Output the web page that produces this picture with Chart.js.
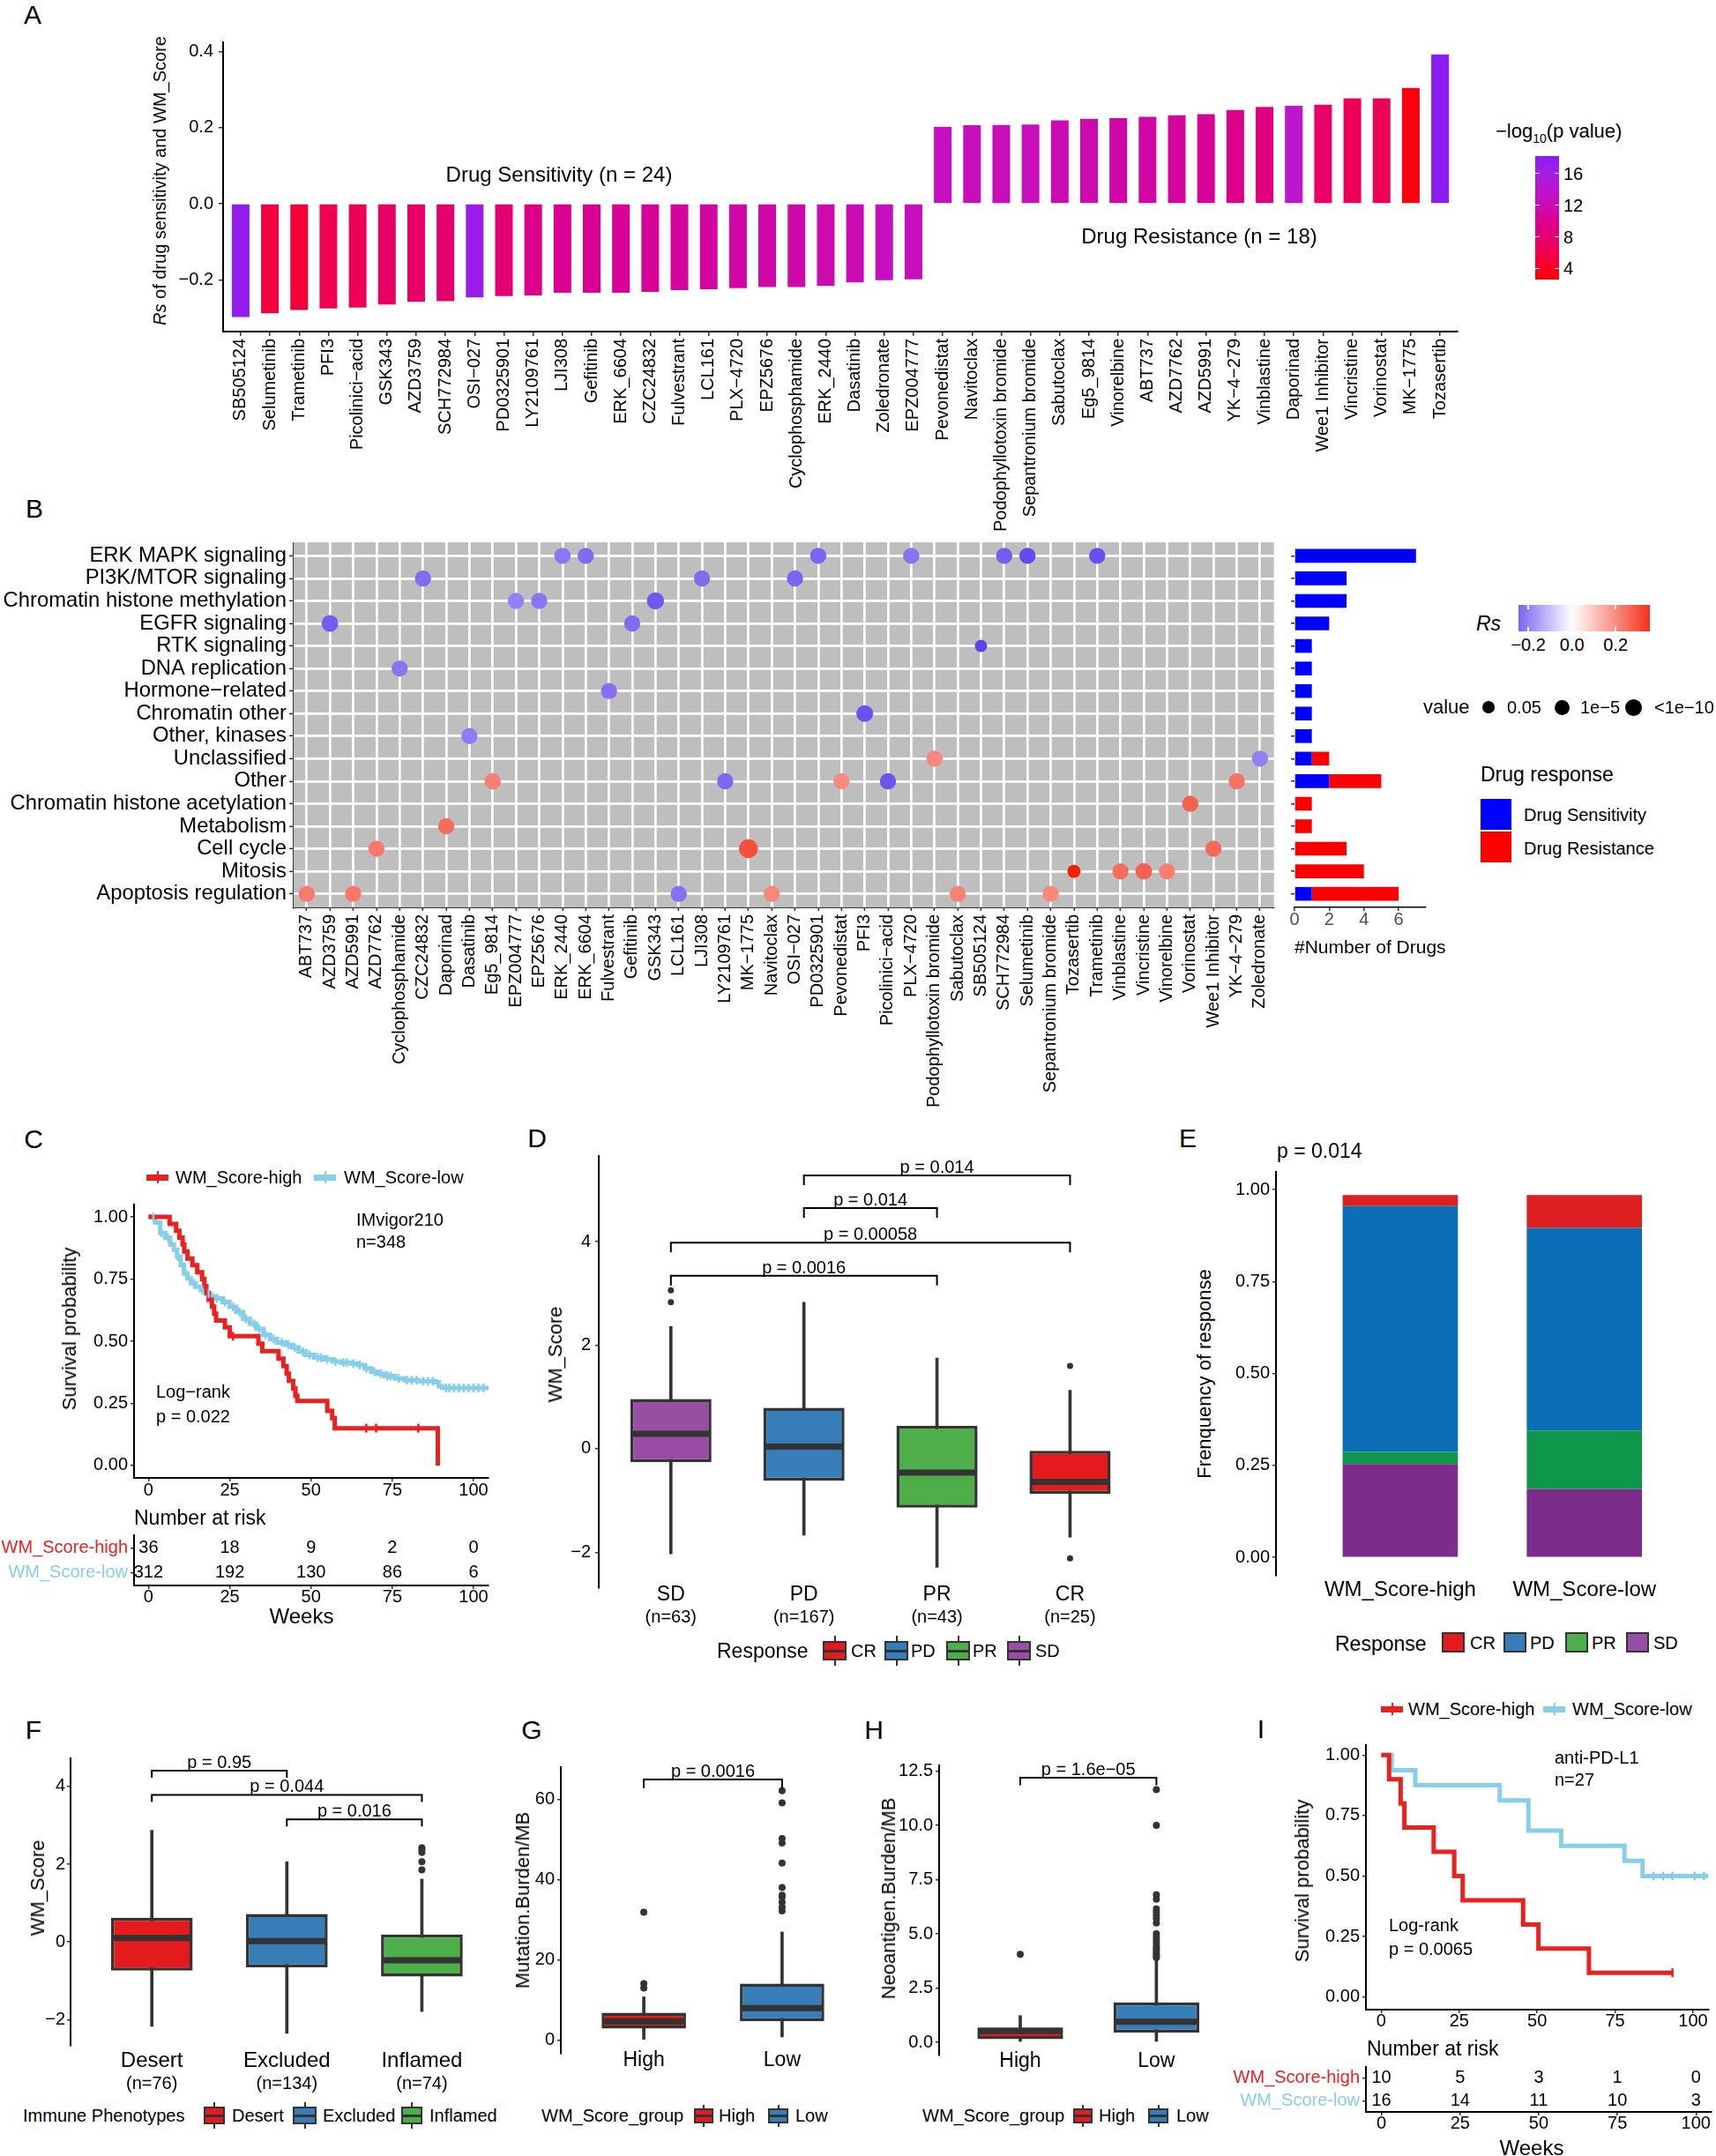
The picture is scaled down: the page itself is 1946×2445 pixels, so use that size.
<!DOCTYPE html>
<html lang="en">
<head>
<meta charset="utf-8">
<title>WM_Score drug sensitivity and immunotherapy response</title>
<script src="https://cdn.jsdelivr.net/npm/chart.js@4.4.1/dist/chart.umd.min.js"></script>
<style>
html, body { margin:0; padding:0; background:#fff; }
body { position:relative; width:1946px; height:2445px; overflow:hidden; font-family:'Liberation Sans', Arial, Helvetica, sans-serif; color:#000; }
.t { position:absolute; white-space:nowrap; line-height:1; }
canvas { position:absolute; }
</style>
</head>
<body>
<script>
// ====================== DATA ======================
// Panel A: Spearman Rs between drug sensitivity and WM_Score
const drugsA = ['SB505124','Selumetinib','Trametinib','PFI3','Picolinici-acid','GSK343','AZD3759','SCH772984','OSI-027','PD0325901','LY2109761','LJI308','Gefitinib','ERK_6604','CZC24832','Fulvestrant','LCL161','PLX-4720','EPZ5676','Cyclophosphamide','ERK_2440','Dasatinib','Zoledronate','EPZ004777','Pevonedistat','Navitoclax','Podophyllotoxin bromide','Sepantronium bromide','Sabutoclax','Eg5_9814','Vinorelbine','ABT737','AZD7762','AZD5991','YK-4-279','Vinblastine','Daporinad','Wee1 Inhibitor','Vincristine','Vorinostat','MK-1775','Tozasertib'];
const rsA = [-0.298,-0.288,-0.279,-0.275,-0.273,-0.265,-0.258,-0.256,-0.246,-0.243,-0.241,-0.234,-0.234,-0.234,-0.232,-0.227,-0.225,-0.222,-0.219,-0.219,-0.216,-0.207,-0.201,-0.199,0.202,0.206,0.207,0.208,0.219,0.223,0.225,0.228,0.232,0.235,0.246,0.254,0.257,0.260,0.277,0.277,0.304,0.392];
const logPA = [17.5,5.3,5.0,6.0,6.3,7.3,7.5,7.8,17.0,8.3,9.5,10.0,10.2,10.2,10.5,10.7,10.9,11.2,11.4,11.6,11.8,12.1,12.8,12.5,12.9,12.5,12.5,12.5,12.1,11.8,11.4,11.2,10.8,10.4,9.5,8.8,14.0,7.5,6.5,6.5,3.3,18.0];
const yTicksA = [-0.2, 0, 0.2, 0.4];
const legendTicksA = [16, 12, 8, 4];

// Panel B: drug targets / pathways
const drugsB = ['ABT737','AZD3759','AZD5991','AZD7762','Cyclophosphamide','CZC24832','Daporinad','Dasatinib','Eg5_9814','EPZ004777','EPZ5676','ERK_2440','ERK_6604','Fulvestrant','Gefitinib','GSK343','LCL161','LJI308','LY2109761','MK-1775','Navitoclax','OSI-027','PD0325901','Pevonedistat','PFI3','Picolinici-acid','PLX-4720','Podophyllotoxin bromide','Sabutoclax','SB505124','SCH772984','Selumetinib','Sepantronium bromide','Tozasertib','Trametinib','Vinblastine','Vincristine','Vinorelbine','Vorinostat','Wee1 Inhibitor','YK-4-279','Zoledronate'];
const pathways = ['ERK MAPK signaling','PI3K/MTOR signaling','Chromatin histone methylation','EGFR signaling','RTK signaling','DNA replication','Hormone-related','Chromatin other','Other, kinases','Unclassified','Other','Chromatin histone acetylation','Metabolism','Cell cycle','Mitosis','Apoptosis regulation'];
const dotDrug = ['ERK_2440','ERK_6604','PD0325901','PLX-4720','SCH772984','Selumetinib','Trametinib',
  'CZC24832','LJI308','OSI-027','EPZ004777','EPZ5676','GSK343','AZD3759','Gefitinib',
  'SB505124','Cyclophosphamide','Fulvestrant','PFI3','Dasatinib','Podophyllotoxin bromide','Zoledronate',
  'Eg5_9814','LY2109761','Pevonedistat','Picolinici-acid','YK-4-279','Vorinostat','Daporinad',
  'AZD7762','MK-1775','Wee1 Inhibitor','Tozasertib','Vinblastine','Vincristine','Vinorelbine',
  'ABT737','AZD5991','LCL161','Navitoclax','Sabutoclax','Sepantronium bromide'];
const dotPath = ['ERK MAPK signaling','ERK MAPK signaling','ERK MAPK signaling','ERK MAPK signaling','ERK MAPK signaling','ERK MAPK signaling','ERK MAPK signaling',
  'PI3K/MTOR signaling','PI3K/MTOR signaling','PI3K/MTOR signaling','Chromatin histone methylation','Chromatin histone methylation','Chromatin histone methylation','EGFR signaling','EGFR signaling',
  'RTK signaling','DNA replication','Hormone-related','Chromatin other','Other, kinases','Unclassified','Unclassified',
  'Other','Other','Other','Other','Other','Chromatin histone acetylation','Metabolism',
  'Cell cycle','Cell cycle','Cell cycle','Mitosis','Mitosis','Mitosis','Mitosis',
  'Apoptosis regulation','Apoptosis regulation','Apoptosis regulation','Apoptosis regulation','Apoptosis regulation','Apoptosis regulation'];
const dotLogP = [12,12,12,12,12,12,12, 12,12,12,12,12,14,13,12, 3,12,12,13,12,12,12, 12,12,12,12,12,12,12, 12,18,12,5,12,13,12, 12,12,12,12,12,12];
const countTicksB = [0, 2, 4, 6];
const rsLegendTicks = [-0.2, 0, 0.2];

// Panel C: IMvigor210 Kaplan-Meier
const kmC_high_t = [0,6.5,8.5,9.5,10.5,11,12,13.5,15,16.5,17.2,17.8,18.5,19.5,20.2,20.8,23.5,25,33.8,35,40,41.5,42.5,43.2,44.5,45.2,45.8,55,56.5,57.3,89];
const kmC_high_s = [1,.972,.944,.917,.889,.861,.833,.806,.778,.750,.722,.694,.667,.639,.611,.583,.556,.52,.49,.46,.43,.40,.37,.34,.31,.28,.26,.22,.19,.15,0];
const kmC_low_t = [0,2,3.6,5.2,6.7,7.8,8.8,9.9,10.9,12,13,14.5,16.1,17.7,19.2,20.8,22.8,24.9,27,29.1,31.2,33.2,35.3,37.4,39.5,42.1,44.1,46.2,48.3,50.9,54,56.6,59.2,62.3,64.4,66.5,68.5,70.6,72.7,75.8,78.9,83.1,88.3,89.3,90.3,104.6];
const kmC_low_s = [1,.977,.936,.916,.889,.868,.841,.807,.773,.753,.733,.719,.706,.692,.681,.672,.658,.638,.617,.590,.570,.550,.526,.509,.495,.486,.475,.459,.445,.434,.427,.418,.414,.410,.404,.391,.377,.369,.360,.350,.343,.339,.335,.319,.312,.312];
const censC_high = [26, 67, 70, 83];
const censC_low = [1.5,4,6,9,11.5,14,16.5,18.5,21,23.5,26,28,30,32.5,34,36,38.5,41,43,45,47.5,49.5,52,53,55,57.5,60,61,63,65,67,69.5,71.5,73.5,74.5,77,79.5,81,82.5,84.5,86,87.5,91.5,92.5,94,95.5,97,98.5,100,101.5,103];
const riskTimes = [0, 25, 50, 75, 100];
const riskC_high = [36, 18, 9, 2, 0];
const riskC_low = [312, 192, 130, 86, 6];
const kmTicksX = [0, 25, 50, 75, 100];
const probTicks = [0, 0.25, 0.5, 0.75, 1];
const kmGroups = ['WM_Score-high', 'WM_Score-low'];

// Panel D: WM_Score by response
const respD = ['SD', 'PD', 'PR', 'CR'];
const nD = [63, 167, 43, 25];
const q1D = [-0.26, -0.62, -1.14, -0.87];
const medD = [0.29, 0.04, -0.46, -0.64];
const q3D = [0.96, 0.79, 0.44, -0.04];
const loD = [-2.03, -1.67, -2.29, -1.71];
const hiD = [2.36, 2.83, 1.75, 1.13];
const outD = [[3.06, 2.83], [], [], [1.60, -2.12]];
const bracketsD = [
  { a: 2, b: 4, y: 5.28, label: 'p = 0.014' },
  { a: 2, b: 3, y: 4.65, label: 'p = 0.014' },
  { a: 1, b: 4, y: 3.98, label: 'p = 0.00058' },
  { a: 1, b: 3, y: 3.34, label: 'p = 0.0016' }];
const yTicksD = [-2, 0, 2, 4];

// Panel E: response frequency
const groupsE = ['WM_Score-high', 'WM_Score-low'];
const E_SD = [0.254, 0.186];
const E_PR = [0.033, 0.159];
const E_PD = [0.668, 0.551];
const E_CR = [0.030, 0.089];
const respLegend = ['CR', 'PD', 'PR', 'SD'];

// Panel F: immune phenotypes
const phenF = ['Desert', 'Excluded', 'Inflamed'];
const nF = [76, 134, 74];
const q1F = [-0.74, -0.65, -0.89];
const medF = [0.10, 0.02, -0.47];
const q3F = [0.62, 0.72, 0.19];
const loF = [-2.17, -2.35, -1.79];
const hiF = [2.87, 2.06, 1.62];
const outF = [[], [], [2.42, 2.36, 2.30, 2.06, 1.85]];
const bracketsF = [
  { a: 1, b: 2, y: 4.40, label: 'p = 0.95' },
  { a: 1, b: 3, y: 3.78, label: 'p = 0.044' },
  { a: 2, b: 3, y: 3.15, label: 'p = 0.016' }];

// Panels G/H: mutation and neoantigen burden
const grpGH = ['High', 'Low'];
const q1G = [2.81, 4.67], medG = [4.67, 7.93], q3G = [6.81, 14.07], loG = [0, 0.74], hiG = [10.74, 26.9];
const outG = [[31.85, 14.07, 12.96], [32.2, 33.1, 34.3, 35.6, 36.1, 38.0, 44.1, 49.1, 50.2, 59.1, 62.1]];
const bracketsG = [{ a: 1, b: 2, y: 64.95, label: 'p = 0.0016' }];
const yTicksG = [0, 20, 40, 60];
const q1H = [0.14, 0.45], medH = [0.52, 0.95], q3H = [0.68, 1.84], loH = [0.04, 0.04], hiH = [1.23, 3.79];
const outH = [[4.06], [3.9, 4.0, 4.1, 4.2, 4.3, 4.4, 4.55, 4.7, 4.85, 5.0, 5.5, 5.7, 5.85, 6.0, 6.15, 6.6, 6.8, 10.0, 11.65]];
const bracketsH = [{ a: 1, b: 2, y: 12.2, label: 'p = 1.6e\u221205' }];
const yTicksH = [0, 2.5, 5, 7.5, 10, 12.5];

// Panel I: anti-PD-L1 Kaplan-Meier
const kmI_high_t = [0, 2.5, 6.2, 7.4, 16.8, 23.4, 26.1, 45.5, 50.4, 66.6, 93.4];
const kmI_high_s = [1, .9, .8, .7, .6, .5, .4, .3, .2, .1, .1];
const kmI_low_t = [0, 3.3, 10.9, 38, 47.2, 57.7, 78, 83.8, 104.9];
const kmI_low_s = [1, .9375, .875, .8125, .6875, .625, .5625, .5, .5];
const censI_high = [93.4];
const censI_low = [87.3, 90.4, 93.4, 100.5, 103.5];
const riskI_high = [10, 5, 3, 1, 0];
const riskI_low = [16, 14, 11, 10, 3];

// ====================== STYLE / HELPERS ======================
const FONT = "'Liberation Sans', Arial, Helvetica, sans-serif";
Chart.defaults.font.family = FONT;
Chart.defaults.font.size = 20;
Chart.defaults.color = '#000';
Chart.defaults.plugins.legend.display = false;
Chart.defaults.plugins.tooltip.enabled = false;
Chart.defaults.animation = false;
Chart.defaults.events = [];

const RED_KM = '#E8221E', BLUE_KM = '#87CEEB';
const SET1 = { CR: '#E41A1C', PD: '#377EB8', PR: '#4DAF4A', SD: '#984EA3' };
const EBAR = { CR: '#DC1F1F', PD: '#0B6DB6', PR: '#0E964A', SD: '#7B2D8C' };
const idx = n => Array.from({ length: n }, (_, i) => i);
const disp = s => s.replace(/-/g, '\u2212');
const fmt = d => v => (v < 0 ? '\u2212' : '') + Math.abs(v).toFixed(d);

function hex2rgb(h) { return [1, 3, 5].map(i => parseInt(h.substr(i, 2), 16)); }
function ramp(stops) {
  const s = stops.map(([v, c]) => [v, hex2rgb(c)]);
  const out = a => 'rgb(' + a.map(x => Math.round(x)).join(',') + ')';
  return v => {
    if (v <= s[0][0]) return out(s[0][1]);
    for (let i = 1; i < s.length; i++) {
      if (v <= s[i][0]) {
        const t = (v - s[i - 1][0]) / (s[i][0] - s[i - 1][0]);
        return out(s[i - 1][1].map((a, k) => a + (s[i][1][k] - a) * t));
      }
    }
    return out(s[s.length - 1][1]);
  };
}
const colA = ramp([[2.6, '#FF0000'], [6, '#F00050'], [10, '#DA0090'], [13, '#C410C4'], [16, '#A81EE0'], [18.2, '#8A1CF5']]);
const colRs = ramp([[-0.3, '#6040F0'], [0, '#FFFFFF'], [0.4, '#F41800']]);
function gradCss(dir, fn, v0, v1) {
  const st = [];
  for (let i = 0; i <= 30; i++) { const v = v0 + (v1 - v0) * i / 30; st.push(fn(v) + ' ' + (i / 30 * 100).toFixed(2) + '%'); }
  return 'linear-gradient(' + dir + ',' + st.join(',') + ')';
}

function txt(x, y, html, size, align, extra) {
  const d = document.createElement('div');
  d.className = 't';
  const tx = align === 'center' ? '-50%' : align === 'right' ? '-100%' : '0';
  d.style.cssText = `left:${x}px;top:${y}px;font-size:${size}px;transform:translate(${tx},-50%);${extra || ''}`;
  d.innerHTML = html;
  document.body.appendChild(d);
  return d;
}
function vtxt(x, y, html, size) {
  const d = txt(x, y, html, size, 'center');
  d.style.transform = 'translate(-50%,-50%) rotate(-90deg)';
  return d;
}
function rect(x, y, w, h, bg, extra) {
  const d = document.createElement('div');
  d.style.cssText = `position:absolute;left:${x}px;top:${y}px;width:${w}px;height:${h}px;background:${bg};box-sizing:border-box;${extra || ''}`;
  document.body.appendChild(d);
  return d;
}
function boxKey(x, yc, w, h, stub, color) {
  rect(x + w / 2 - 1, yc - h / 2 - stub, 2, h + 2 * stub, '#333');
  rect(x, yc - h / 2, w, h, color, 'border:2.5px solid #333;');
  rect(x + 2, yc - 1.5, w - 4, 3, '#333');
}
function kmKey(x, yc, color) {
  rect(x, yc - 3.5, 25, 7, color);
  rect(x + 11.5, yc - 7, 2, 14, color);
}

function makeChart(area, pad, cfg) {
  const W = Math.round(area.r - area.l + pad.l + pad.r);
  const H = Math.round(area.b - area.t + pad.t + pad.b);
  const c = document.createElement('canvas');
  c.width = W; c.height = H;
  c.style.left = (area.l - pad.l) + 'px';
  c.style.top = (area.t - pad.t) + 'px';
  c.style.width = W + 'px'; c.style.height = H + 'px';
  document.body.appendChild(c);
  const o = cfg.options || (cfg.options = {});
  o.responsive = false; o.maintainAspectRatio = false; o.animation = false; o.devicePixelRatio = 1;
  o.layout = { padding: { left: 0, top: pad.t, right: pad.r, bottom: 0 } };
  o.scales.x.afterFit = s => { s.height = pad.b; };
  o.scales.y.afterFit = s => { s.width = pad.l; };
  return new Chart(c.getContext('2d'), cfg);
}
function linAxis(o) {
  const tick = o.tick === undefined ? 5 : o.tick;
  return {
    type: 'linear', min: o.min, max: o.max, reverse: !!o.reverse, offset: false, stacked: !!o.stacked,
    afterBuildTicks: s => { s.ticks = o.ticks.map(v => ({ value: v })); },
    ticks: {
      display: o.labels !== false, autoSkip: false, maxRotation: o.rot || 0, minRotation: o.rot || 0,
      padding: o.pad === undefined ? 3 : o.pad, font: { size: o.font || 20 }, color: o.color || '#000',
      callback: o.cb || (v => String(v))
    },
    grid: o.grid || { display: tick > 0, drawOnChartArea: false, drawTicks: true, tickLength: tick, color: '#333', lineWidth: 1.5, offset: false },
    border: { display: o.line !== false, color: o.lineColor || '#000', width: o.bw || 2 }
  };
}
const bgPlugin = color => ({ id: 'bg', beforeDraw(ch) {
  const a = ch.chartArea, ctx = ch.ctx;
  ctx.save(); ctx.fillStyle = color; ctx.fillRect(a.left, a.top, a.right - a.left, a.bottom - a.top); ctx.restore();
} });
const bracketPlugin = (list, tickPx) => ({ id: 'brackets', afterDatasetsDraw(ch) {
  const { ctx, scales: { x, y } } = ch;
  ctx.save(); ctx.strokeStyle = '#000'; ctx.lineWidth = 2; ctx.fillStyle = '#000';
  ctx.font = `20px ${FONT}`; ctx.textAlign = 'center'; ctx.textBaseline = 'alphabetic';
  list.forEach(b => {
    const x1 = x.getPixelForValue(b.a), x2 = x.getPixelForValue(b.b), yy = y.getPixelForValue(b.y);
    ctx.beginPath(); ctx.moveTo(x1, yy + tickPx); ctx.lineTo(x1, yy); ctx.lineTo(x2, yy); ctx.lineTo(x2, yy + tickPx); ctx.stroke();
    ctx.fillText(b.label, (x1 + x2) / 2, yy - 3);
  });
  ctx.restore();
} });
const catLabelPlugin = (names, subs, o) => ({ id: 'catlabels', afterDraw(ch) {
  const { ctx, chartArea: a, scales: { x } } = ch;
  ctx.save(); ctx.fillStyle = '#000'; ctx.textAlign = 'center'; ctx.textBaseline = 'middle';
  names.forEach((n, i) => {
    const px = x.getPixelForValue(i + 1);
    ctx.font = `${o.f1}px ${FONT}`; ctx.fillText(n, px, a.bottom + o.d1);
    if (subs) { ctx.font = `${o.f2}px ${FONT}`; ctx.fillText(subs[i], px, a.bottom + o.d2); }
  });
  ctx.restore();
} });
const riskPlugin = (rows, times) => ({ id: 'risk', afterDraw(ch) {
  const { ctx, scales: { x, y } } = ch;
  ctx.save(); ctx.font = `20px ${FONT}`; ctx.fillStyle = '#000'; ctx.textAlign = 'center'; ctx.textBaseline = 'middle';
  rows.forEach((row, r) => row.forEach((n, j) => ctx.fillText(String(n), x.getPixelForValue(times[j]), y.getPixelForValue(r))));
  ctx.restore();
} });

function kmAt(ts, ss, t) { let s = 1; for (let i = 0; i < ts.length; i++) if (ts[i] <= t) s = ss[i]; return s; }
function kmDs(ts, ss, color) {
  return { data: ts.map((x, i) => ({ x, y: ss[i] })), showLine: true, stepped: true, borderColor: color, borderWidth: 5, pointRadius: 0, fill: false };
}
function censorDs(cs, ts, ss, color) {
  return { data: cs.map(x => ({ x, y: kmAt(ts, ss, x) })), showLine: false, pointStyle: 'line', pointRotation: 90, pointRadius: 5, pointBorderColor: color, pointBorderWidth: 2.5 };
}
function boxDatasets(st, colors, outl, frac, bw, outR) {
  const xs = st.q1.map((_, i) => i + 1);
  const halfPx = ch => ch.scales.x.getPixelForValue(1 + frac / 2) - ch.scales.x.getPixelForValue(1);
  const outPts = [];
  outl.forEach((arr, i) => arr.forEach(v => outPts.push({ x: i + 1, y: v })));
  return [
    { type: 'scatter', order: 0, data: xs.map((x, i) => ({ x, y: st.med[i] })), pointStyle: 'line',
      pointRadius: c => halfPx(c.chart) - 1, pointBorderColor: '#333', pointBorderWidth: 7, pointBackgroundColor: '#333' },
    { type: 'scatter', order: 1, data: outPts, pointRadius: outR, pointBackgroundColor: '#333', pointBorderWidth: 0 },
    { type: 'bar', order: 2, data: xs.map((x, i) => ({ x, y: [st.q1[i], st.q3[i]] })), backgroundColor: colors,
      borderColor: '#333', borderWidth: bw, borderSkipped: false, grouped: false, barPercentage: frac, categoryPercentage: 1 },
    { type: 'bar', order: 3, data: xs.map((x, i) => ({ x, y: [st.lo[i], st.hi[i]] })), backgroundColor: '#333',
      barThickness: 3, grouped: false }
  ];
}

// ====================== PANEL LETTERS ======================
[['A', 37, 17], ['B', 39, 577], ['C', 38, 1292], ['D', 609, 1291], ['E', 1347, 1291], ['F', 38, 1962], ['G', 603, 1962], ['H', 991, 1962], ['I', 1430, 1961]]
  .forEach(([l, x, y]) => txt(x, y, l, 30, 'center'));

// ====================== PANEL A ======================
makeChart({ l: 253, t: 48, r: 1653, b: 376 }, { l: 90, t: 20, r: 12, b: 240 }, {
  type: 'bar',
  data: { datasets: [{ data: drugsA.map((d, i) => ({ x: i, y: rsA[i] })), backgroundColor: logPA.map(colA), barPercentage: 0.603, categoryPercentage: 1 }] },
  options: { scales: {
    x: linAxis({ min: -0.6, max: 41.6, ticks: idx(drugsA.length), rot: 90, cb: v => disp(drugsA[v]), pad: 3, tick: 5 }),
    y: linAxis({ min: -0.336, max: 0.424, ticks: yTicksA, cb: fmt(1), pad: 6, tick: 5 })
  } }
});
vtxt(181, 205, '<i>Rs</i> of drug sensitivity and WM_Score', 20);
txt(634, 198, 'Drug Sensitivity (n = 24)', 24, 'center');
txt(1360, 268, 'Drug Resistance (n = 18)', 24, 'center');
txt(1696, 149, '\u2212log<span style="font-size:14px;position:relative;top:6px">10</span>(p value)', 22);
(function () {
  const top = 177, h = 140, vTop = 18.2, vBot = 2.6;
  rect(1741, top, 27, h, gradCss('to bottom', colA, vTop, vBot));
  legendTicksA.forEach(v => {
    const y = top + (vTop - v) / (vTop - vBot) * h;
    rect(1741, y - 0.75, 5, 1.5, '#fff'); rect(1763, y - 0.75, 5, 1.5, '#fff');
    txt(1773, y, String(v), 20);
  });
})();

// ====================== PANEL B ======================
const dots = dotDrug.map((d, i) => ({
  xi: drugsB.indexOf(d), yi: pathways.indexOf(dotPath[i]), rs: rsA[drugsA.indexOf(d)], lp: dotLogP[i]
}));
const sensCount = pathways.map((p, i) => dots.filter(d => d.yi === i && d.rs < 0).length);
const resCount = pathways.map((p, i) => dots.filter(d => d.yi === i && d.rs > 0).length);
const whiteGrid = { display: true, drawOnChartArea: true, drawTicks: true, tickLength: 4, color: '#fff', lineWidth: 2.7, tickColor: '#333', tickWidth: 1.5, offset: false };
makeChart({ l: 332, t: 615, r: 1453, b: 1029 }, { l: 332, t: 20, r: 4, b: 240 }, {
  type: 'scatter',
  data: { datasets: [{ data: dots.map(d => ({ x: d.xi, y: d.yi })), pointRadius: dots.map(d => 6.2 + 0.25 * d.lp),
    pointBackgroundColor: dots.map(d => colRs(d.rs)), pointBorderWidth: 0 }] },
  options: { scales: {
    x: linAxis({ min: -0.6, max: 41.6, ticks: idx(drugsB.length), rot: 90, cb: v => disp(drugsB[v]), pad: 4, grid: whiteGrid, bw: 1, lineColor: '#333' }),
    y: linAxis({ min: -0.6, max: 15.6, reverse: true, ticks: idx(pathways.length), cb: v => disp(pathways[v]), font: 23.8, pad: 3, grid: whiteGrid, bw: 1, lineColor: '#333' })
  } },
  plugins: [bgPlugin('#BEBEBE')]
});
makeChart({ l: 1468, t: 615, r: 1617, b: 1029 }, { l: 14, t: 20, r: 8, b: 60 }, {
  type: 'bar',
  data: { datasets: [
    { label: 'Drug Sensitivity', data: pathways.map((p, i) => ({ x: sensCount[i], y: i })), backgroundColor: '#0000FF', barPercentage: 0.61, categoryPercentage: 1 },
    { label: 'Drug Resistance', data: pathways.map((p, i) => ({ x: resCount[i], y: i })), backgroundColor: '#FF0000', barPercentage: 0.61, categoryPercentage: 1 }
  ] },
  options: { indexAxis: 'y', scales: {
    x: linAxis({ min: 0, max: 7.57, ticks: countTicksB, color: '#4D4D4D', pad: -2, tick: 4, bw: 1.5, stacked: true }),
    y: linAxis({ min: -0.6, max: 15.6, reverse: true, ticks: idx(pathways.length), cb: () => '', tick: 4, line: false, stacked: true })
  } }
});
txt(1468, 1073, '#Number of Drugs', 21);
// Rs colour legend
txt(1674, 707, '<i>Rs</i>', 23);
(function () {
  const l = 1722, w = 149, v0 = -0.245, v1 = 0.357;
  rect(l, 686, w, 30, gradCss('to right', colRs, v0, v1));
  rsLegendTicks.forEach(v => {
    const x = l + (v - v0) / (v1 - v0) * w;
    rect(x - 0.75, 686, 1.5, 5, '#fff'); rect(x - 0.75, 711, 1.5, 5, '#fff');
    txt(x, 731, fmt(1)(v), 20, 'center');
  });
})();
txt(1614, 802, 'value', 22);
[[1688, 7, '0.05', 1709], [1771, 8.5, '1e\u22125', 1792], [1852, 9.5, '&lt;1e\u221210', 1876]].forEach(([cx, r, lab, lx]) => {
  rect(cx - r, 802 - r, 2 * r, 2 * r, '#000', 'border-radius:50%;');
  txt(lx, 802, lab, 20);
});
txt(1679, 878, 'Drug response', 23);
rect(1679, 906, 35, 35, '#0000FF'); txt(1728, 924, 'Drug Sensitivity', 20);
rect(1679, 943, 35, 35, '#FF0000'); txt(1728, 962, 'Drug Resistance', 20);

// ====================== PANEL C ======================
makeChart({ l: 152, t: 1366, r: 554, b: 1676 }, { l: 80, t: 20, r: 10, b: 40 }, {
  type: 'scatter',
  data: { datasets: [
    censorDs(censC_high, kmC_high_t, kmC_high_s, RED_KM),
    censorDs(censC_low, kmC_low_t, kmC_low_s, BLUE_KM),
    kmDs(kmC_high_t, kmC_high_s, RED_KM),
    kmDs(kmC_low_t, kmC_low_s, BLUE_KM)
  ] },
  options: { scales: {
    x: linAxis({ min: -4.45, max: 104.6, ticks: kmTicksX, pad: -2, tick: 4 }),
    y: linAxis({ min: -0.05, max: 1.05, ticks: probTicks, cb: fmt(2), pad: 3, tick: 4 })
  } }
});
function riskChart(area, rows) {
  makeChart(area, { l: area.l, t: 20, r: 10, b: 32 }, {
    type: 'scatter',
    data: { datasets: [{ data: [] }] },
    options: { scales: {
      x: linAxis({ min: area.xmin, max: area.xmax, ticks: kmTicksX, pad: -3, tick: 4 }),
      y: { type: 'category', labels: kmGroups, offset: true,
        ticks: { color: c => [RED_KM, BLUE_KM][c.index], font: { size: 20 }, padding: 3, autoSkip: false },
        grid: { display: true, drawOnChartArea: false, drawTicks: true, tickLength: 4, color: '#333', lineWidth: 1.5, offset: false },
        border: { display: true, color: '#000', width: 2 } }
    } },
    plugins: [riskPlugin(rows, riskTimes)]
  });
}
riskChart({ l: 152, t: 1741, r: 554, b: 1798, xmin: -4.45, xmax: 104.6 }, [riskC_high, riskC_low]);
kmKey(166, 1335, RED_KM); txt(199, 1335, 'WM_Score-high', 20);
kmKey(356, 1335, BLUE_KM); txt(390, 1335, 'WM_Score-low', 20);
vtxt(79, 1507, 'Survival probability', 22);
txt(404, 1383, 'IMvigor210', 20); txt(404, 1408, 'n=348', 20);
txt(177, 1578, 'Log\u2212rank', 20); txt(177, 1606, 'p = 0.022', 20);
txt(152, 1721, 'Number at risk', 23);
txt(342, 1833, 'Weeks', 24, 'center');

// ====================== PANEL D ======================
makeChart({ l: 679, t: 1311, r: 1304, b: 1801 }, { l: 60, t: 20, r: 10, b: 60 }, {
  type: 'bar',
  data: { datasets: boxDatasets({ q1: q1D, med: medD, q3: q3D, lo: loD, hi: hiD }, respD.map(r => SET1[r]), outD, 0.61, 3.5, 3.5) },
  options: { scales: {
    x: linAxis({ min: 0.458, max: 4.6, ticks: [1, 2, 3, 4], labels: false, tick: 0, line: false }),
    y: linAxis({ min: -2.693, max: 5.654, ticks: yTicksD, cb: fmt(0), pad: 5, tick: 4 })
  } },
  plugins: [bracketPlugin(bracketsD, 11), catLabelPlugin(respD, nD.map(n => `(n=${n})`), { f1: 23, d1: 8, f2: 20, d2: 33 })]
});
vtxt(630, 1536, 'WM_Score', 22);
txt(813, 1872, 'Response', 23);
[[933, 965], [1003, 1033], [1073, 1103], [1142, 1174]].forEach(([kx, lx], i) => {
  boxKey(kx, 1872, 27, 22, 6, SET1[respLegend[i]]);
  txt(lx, 1872, respLegend[i], 20);
});

// ====================== PANEL E ======================
makeChart({ l: 1447, t: 1329, r: 1922, b: 1787 }, { l: 60, t: 20, r: 10, b: 40 }, {
  type: 'bar',
  data: { datasets: [
    { label: 'SD', data: E_SD.map((v, i) => ({ x: i + 1, y: v })), backgroundColor: EBAR.SD, barPercentage: 0.626, categoryPercentage: 1 },
    { label: 'PR', data: E_PR.map((v, i) => ({ x: i + 1, y: v })), backgroundColor: EBAR.PR, barPercentage: 0.626, categoryPercentage: 1 },
    { label: 'PD', data: E_PD.map((v, i) => ({ x: i + 1, y: v })), backgroundColor: EBAR.PD, barPercentage: 0.626, categoryPercentage: 1 },
    { label: 'CR', data: E_CR.map((v, i) => ({ x: i + 1, y: v })), backgroundColor: EBAR.CR, barPercentage: 0.626, categoryPercentage: 1 }
  ] },
  options: { scales: {
    x: linAxis({ min: 0.325, max: 2.6, ticks: [1, 2], labels: false, tick: 0, line: false, stacked: true }),
    y: linAxis({ min: -0.05, max: 1.048, ticks: probTicks, cb: fmt(2), pad: 3, tick: 4, stacked: true })
  } },
  plugins: [catLabelPlugin(groupsE, null, { f1: 24, d1: 16 })]
});
txt(1448, 1305, 'p = 0.014', 23);
vtxt(1366, 1558, 'Frenquency of response', 22);
txt(1514, 1864, 'Response', 23);
[[1635, 1667], [1705, 1735], [1775, 1805], [1844, 1875]].forEach(([kx, lx], i) => {
  rect(kx, 1851, 26, 23, SET1[respLegend[i]], 'border:2.5px solid #333;');
  txt(lx, 1863, respLegend[i], 20);
});

// ====================== PANEL F ======================
const colF = [SET1.CR, SET1.PD, SET1.PR];
makeChart({ l: 80, t: 1994, r: 570, b: 2320 }, { l: 60, t: 20, r: 10, b: 60 }, {
  type: 'bar',
  data: { datasets: boxDatasets({ q1: q1F, med: medF, q3: q3F, lo: loF, hi: hiF }, colF, outF, 0.605, 3.5, 4) },
  options: { scales: {
    x: linAxis({ min: 0.398, max: 3.598, ticks: [1, 2, 3], labels: false, tick: 0, line: false }),
    y: linAxis({ min: -2.67, max: 4.72, ticks: yTicksD, cb: fmt(0), pad: 2, tick: 4 })
  } },
  plugins: [bracketPlugin(bracketsF, 8), catLabelPlugin(phenF, nF.map(n => `(n=${n})`), { f1: 24, d1: 17, f2: 20, d2: 43 })]
});
vtxt(43, 2141, 'WM_Score', 22);
txt(26, 2399, 'Immune Phenotypes', 20);
[[231, 24, 263], [332, 27, 366], [455, 24, 487]].forEach(([kx, w, lx], i) => {
  boxKey(kx, 2399, w, 20, 5, colF[i]);
  txt(lx, 2399, phenF[i], 20);
});

// ====================== PANEL G ======================
const colGH = [SET1.CR, SET1.PD];
makeChart({ l: 636, t: 2004, r: 981, b: 2329 }, { l: 50, t: 20, r: 10, b: 40 }, {
  type: 'bar',
  data: { datasets: boxDatasets({ q1: q1G, med: medG, q3: q3G, lo: loG, hi: hiG }, colGH, outG, 0.61, 3.5, 4) },
  options: { scales: {
    x: linAxis({ min: 0.4, max: 2.6, ticks: [1, 2], labels: false, tick: 0, line: false }),
    y: linAxis({ min: -3.43, max: 68.0, ticks: yTicksG, pad: 3, tick: 4 })
  } },
  plugins: [bracketPlugin(bracketsG, 10), catLabelPlugin(grpGH, null, { f1: 23, d1: 8 })]
});
vtxt(593, 2155, 'Mutation.Burden/MB', 22);
txt(614, 2399, 'WM_Score_group', 20);
boxKey(787, 2399, 22, 17, 4, colGH[0]); txt(815, 2399, 'High', 20);
boxKey(871, 2399, 23, 17, 4, colGH[1]); txt(902, 2399, 'Low', 20);

// ====================== PANEL H ======================
makeChart({ l: 1065, t: 2002, r: 1404, b: 2331 }, { l: 60, t: 20, r: 10, b: 40 }, {
  type: 'bar',
  data: { datasets: boxDatasets({ q1: q1H, med: medH, q3: q3H, lo: loH, hi: hiH }, colGH, outH, 0.63, 3.5, 4) },
  options: { scales: {
    x: linAxis({ min: 0.404, max: 2.6, ticks: [1, 2], labels: false, tick: 0, line: false }),
    y: linAxis({ min: -0.61, max: 12.77, ticks: yTicksH, cb: fmt(1), pad: 3, tick: 4 })
  } },
  plugins: [bracketPlugin(bracketsH, 8.5), catLabelPlugin(grpGH, null, { f1: 23, d1: 7 })]
});
vtxt(1008, 2153, 'Neoantigen.Burden/MB', 22);
txt(1046, 2399, 'WM_Score_group', 20);
boxKey(1217, 2399, 22, 17, 4, colGH[0]); txt(1246, 2399, 'High', 20);
boxKey(1302, 2399, 23, 17, 4, colGH[1]); txt(1334, 2399, 'Low', 20);

// ====================== PANEL I ======================
makeChart({ l: 1549, t: 1979, r: 1941, b: 2279 }, { l: 80, t: 20, r: 4, b: 40 }, {
  type: 'scatter',
  data: { datasets: [
    censorDs(censI_high, kmI_high_t, kmI_high_s, RED_KM),
    censorDs(censI_low, kmI_low_t, kmI_low_s, BLUE_KM),
    kmDs(kmI_high_t, kmI_high_s, RED_KM),
    kmDs(kmI_low_t, kmI_low_s, BLUE_KM)
  ] },
  options: { scales: {
    x: linAxis({ min: -4.93, max: 104.96, ticks: kmTicksX, pad: -3, tick: 4 }),
    y: linAxis({ min: -0.052, max: 1.041, ticks: probTicks, cb: fmt(2), pad: 3, tick: 4 })
  } }
});
riskChart({ l: 1549, t: 2344, r: 1941, b: 2395, xmin: -4.93, xmax: 104.96 }, [riskI_high, riskI_low]);
kmKey(1566, 1938, RED_KM); txt(1597, 1938, 'WM_Score-high', 20);
kmKey(1750, 1938, BLUE_KM); txt(1783, 1938, 'WM_Score-low', 20);
vtxt(1477, 2133, 'Survival probability', 22);
txt(1763, 1993, 'anti-PD-L1', 20); txt(1763, 2018, 'n=27', 20);
txt(1575, 2183, 'Log-rank', 20); txt(1575, 2210, 'p = 0.0065', 20);
txt(1550, 2323, 'Number at risk', 23);
txt(1737, 2436, 'Weeks', 24, 'center');
</script>
</body>
</html>
